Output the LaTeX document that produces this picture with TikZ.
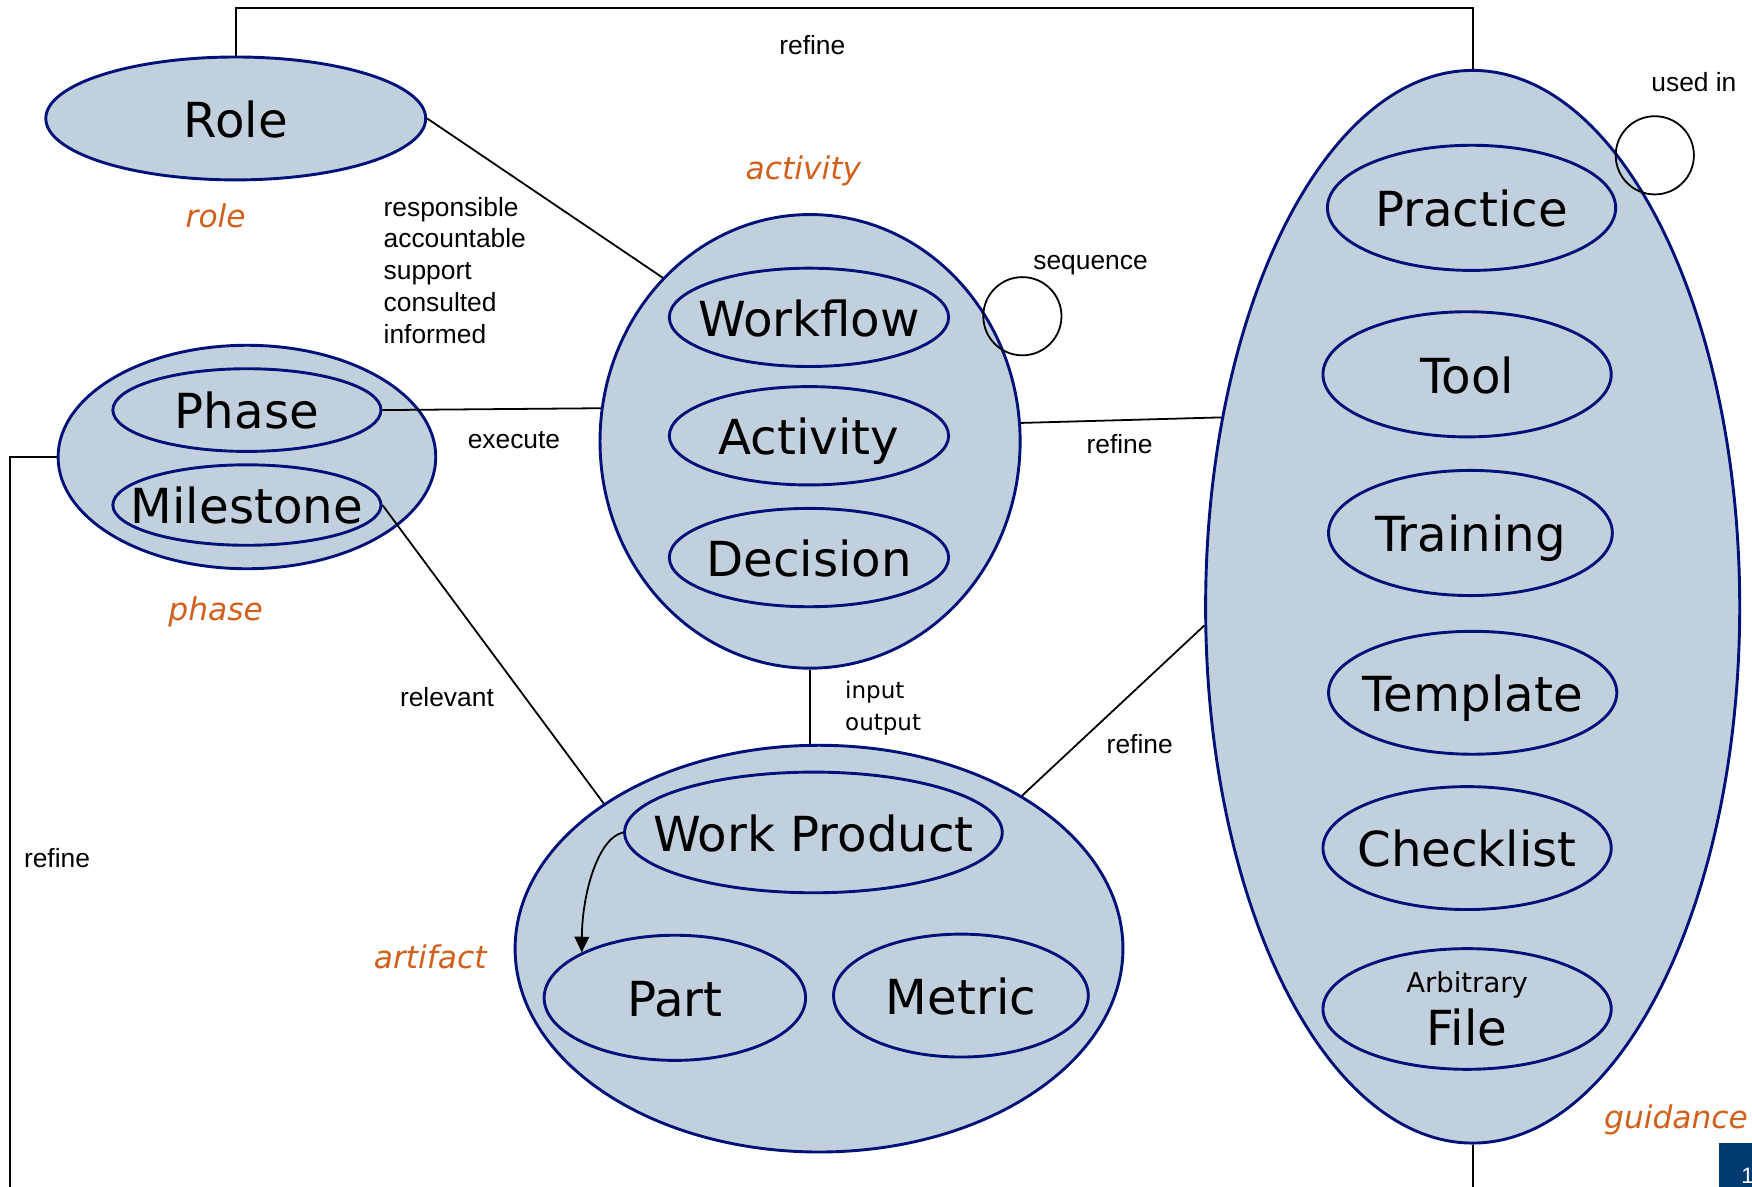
\documentclass[tikz,border=0pt]{standalone}
\usepackage{fontspec}
\setmainfont{DejaVu Sans}
\newfontfamily\arialf{Liberation Sans}
\usetikzlibrary{shapes.geometric,arrows.meta}
\definecolor{fillc}{RGB}{194,208,222}
\definecolor{navy}{RGB}{0,18,120}
\definecolor{orng}{RGB}{209,96,28}
\definecolor{sqc}{RGB}{0,58,112}
\begin{document}
\begin{tikzpicture}[x=0.5pt,y=-0.5pt,
  shp/.style={ellipse,draw=navy,fill=fillc,line width=1.3pt,inner sep=0pt},
  big/.style={font=\fontsize{21.6}{25}\selectfont,text height=16.8pt,text depth=0pt},
  lbl/.style={font=\arialf\fontsize{11.8}{14.25}\selectfont,inner sep=0pt},
  cat/.style={font=\itshape\fontsize{14}{17}\selectfont,text=orng,inner sep=0pt},
  con/.style={line width=0.8pt,draw=black}]
\useasboundingbox (0,0) rectangle (1568,1062);

% group ellipses
\node[shp,big,minimum width=170pt,minimum height=55pt] (role) at (211,106) {\makebox[0pt]{Role}};
\node[shp,minimum width=169pt,minimum height=100pt] (phg) at (221,409) {};
\node[shp,minimum width=188pt,minimum height=203pt] (act) at (725,395) {};
\node[shp,minimum width=272pt,minimum height=182pt] (art) at (733,849) {};
\node[shp,minimum width=239pt,minimum height=480pt] (gd) at (1318,543) {};

% inner ellipses
\node[shp,big,minimum width=120pt,minimum height=37pt] (ph) at (221,367) {\makebox[0pt]{Phase}};
\node[shp,big,minimum width=120pt,minimum height=36pt] (ms) at (221,452) {\makebox[0pt]{Milestone}};
\node[shp,big,minimum width=125pt,minimum height=44pt] (wf) at (724,284) {\makebox[0pt]{Workflow}};
\node[shp,big,minimum width=125pt,minimum height=44pt] (av) at (724,390) {\makebox[0pt]{Activity}};
\node[shp,big,minimum width=125pt,minimum height=44pt] (dc) at (724,499) {\makebox[0pt]{Decision}};
\node[shp,big,minimum width=169pt,minimum height=54pt] (wp) at (728,745) {\makebox[0pt]{Work Product}};
\node[shp,big,minimum width=117pt,minimum height=56pt] (pt) at (604,893) {\makebox[0pt]{Part}};
\node[shp,big,minimum width=114pt,minimum height=55pt] (mt) at (860,891) {\makebox[0pt]{Metric}};
\node[shp,big,minimum width=129pt,minimum height=56pt] (pr) at (1317,186) {\makebox[0pt]{Practice}};
\node[shp,big,minimum width=129pt,minimum height=56pt] (tl) at (1313,335) {\makebox[0pt]{Tool}};
\node[shp,big,minimum width=127pt,minimum height=56pt] (tr) at (1316,477) {\makebox[0pt]{Training}};
\node[shp,big,minimum width=129pt,minimum height=55pt] (tp) at (1318,620) {\makebox[0pt]{Template}};
\node[shp,big,minimum width=129pt,minimum height=55pt] (ck) at (1313,759) {\makebox[0pt]{Checklist}};
\node[shp,minimum width=129pt,minimum height=54pt] (fl) at (1313,903) {};
\node[font=\fontsize{12.3}{14}\selectfont,text height=9pt,text depth=0pt,inner sep=0pt] (flt1) at (1313,879) {Arbitrary};
\node[big,inner sep=0pt] (flt2) at (1313,919) {File};

% category labels
\node[cat] (lrole) at (193,193) {role};
\node[cat] (lphase) at (193,548) {phase};
\node[cat] (lact) at (719,153) {activity};
\node[cat] (lart) at (385,856) {artifact};
\node[cat] (lgd) at (1500,1002) {guidance};

% connectors
\coordinate (topc) at (1320,7);
\coordinate (bl) at (9,1066);
\draw[con] (role.north) -- (role.north |- topc) -| (gd.north);
\draw[con] (role.east) -- (act.132.3);
\draw[con] (ph.east) -- (act.171.2);
\draw[con] (ms.east) -- (art.146.3);
\draw[con] (act.5.8) -- (gd.143.6);
\draw[con] (act.south) -- (act.south |- art.north);
\draw[con] (art.37) -- (gd.184);
\draw[con] (phg.west) -| (bl);
\draw[con] (gd.south) -- (gd.south |- bl);
\coordinate (seqc) at (915,283);
\coordinate (usec) at (1481,139);
\draw[con] (seqc) circle[radius=17.5pt];
\draw[con] (usec) circle[radius=17.5pt];
\draw[con,-{Triangle[length=7pt,width=6.5pt]}] (wp.west) .. controls (535,750) and (521,800) .. (pt.154.8);

% connector labels
\node[lbl] (t1) at (727,40) {refine};
\node[lbl] (t2) at (1516,73) {used in};
\node[lbl] (t3) at (976,237) {sequence};
\node[lbl,align=left,anchor=west] (t4) at (343,242) {responsible\\accountable\\support\\consulted\\informed};
\node[lbl] (t5) at (460,394) {execute};
\node[lbl] (t6) at (1002,397) {refine};
\node[lbl] (t7) at (400,624) {relevant};
\node[font=\fontsize{10.3}{14.5}\selectfont,inner sep=0pt,align=left,anchor=west] (t8) at (756,633.5) {input\\output};
\node[lbl] (t9) at (1020,666) {refine};
\node[lbl] (t10) at (51,768) {refine};

% slide number square
\fill[sqc] (1538,1023) rectangle (1575,1070);
\node[font=\arialf\fontsize{10}{12}\selectfont,text=white,anchor=base west,inner sep=0pt] (pn) at (1558,1059) {1};
\end{tikzpicture}
\end{document}
